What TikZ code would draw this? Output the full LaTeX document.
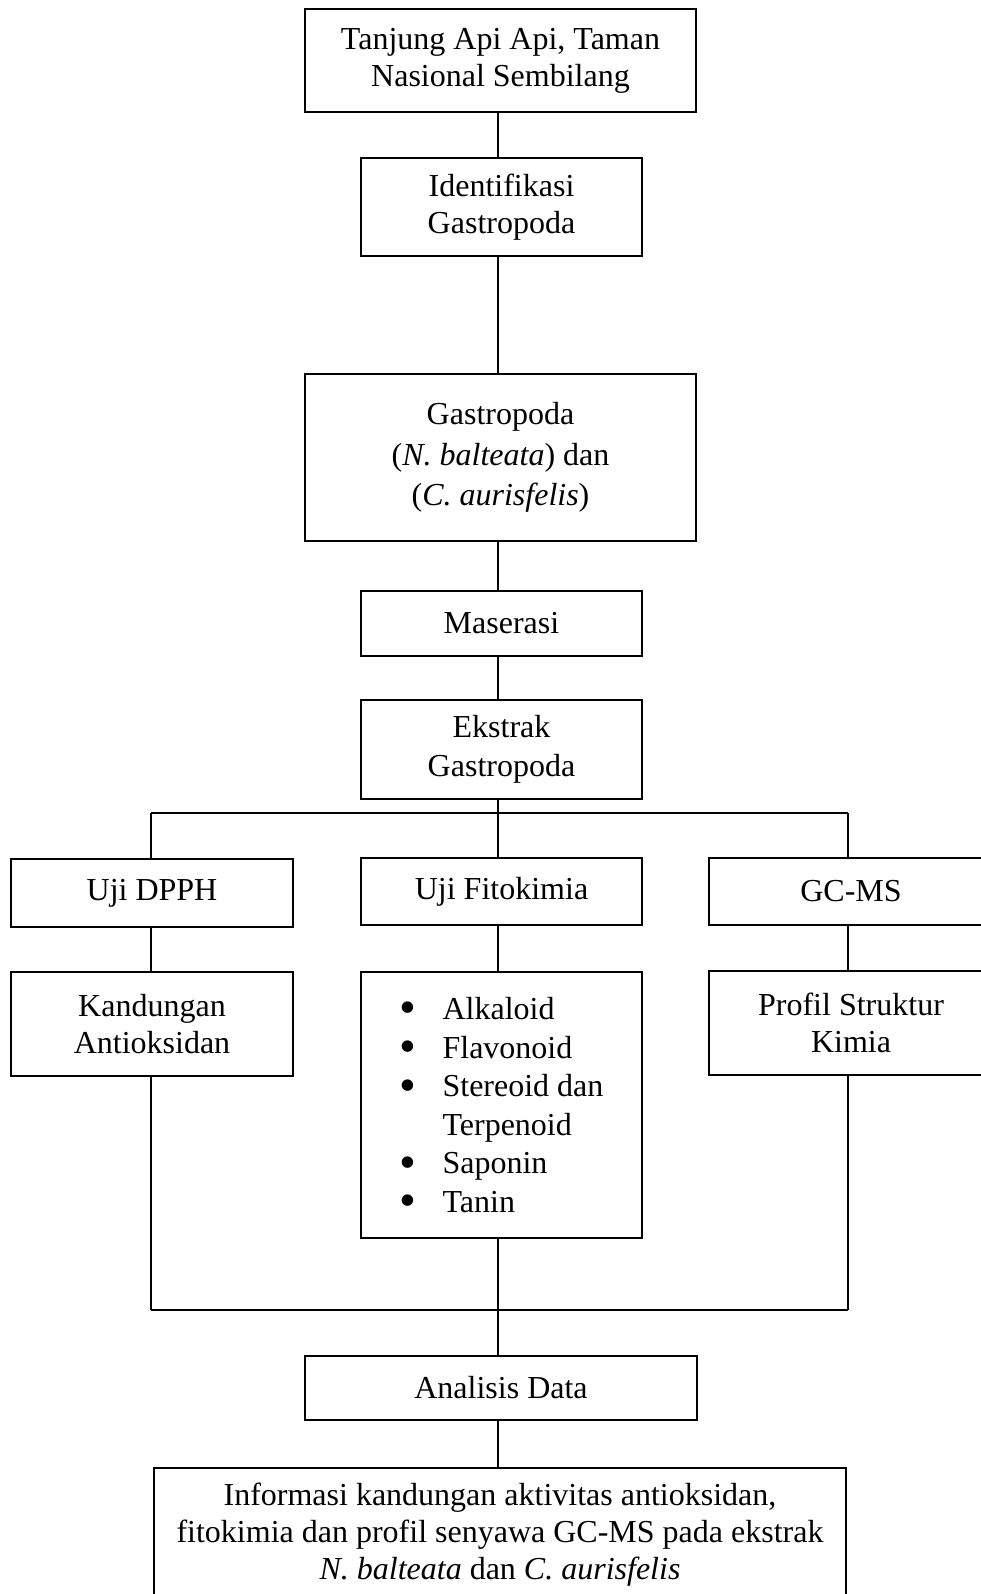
\documentclass[tikz,border=0pt]{standalone}
\usepackage{fontspec}
\setmainfont{Liberation Serif}
\newcommand\bigblt{\smash{\raisebox{-4.5pt}{\fontsize{48}{37}\selectfont\textbullet}}}
\begin{document}
\begin{tikzpicture}[x=1pt,y=-1pt,
  box/.style={draw, line width=1.5pt, inner sep=0pt, outer sep=0pt, align=center, font=\fontsize{32}{37}\selectfont},
  conn/.style={line width=1.2pt}]
\useasboundingbox (0,0) rectangle (981,1594);
% boxes
\node[box, minimum width=391pt, minimum height=103pt] (top) at (500.5,60.5) {Tanjung Api Api, Taman\\Nasional Sembilang};
\node[box, minimum width=281pt, minimum height=98pt] (ident) at (501.5,207) {Identifikasi\\Gastropoda};
\node[box, minimum width=391pt, minimum height=167pt, font=\fontsize{32}{40.7}\selectfont] (gastro) at (500.5,457.5) {Gastropoda\\(\textit{N. balteata}) dan\\(\textit{C. aurisfelis})};
\node[box, minimum width=281pt, minimum height=65pt] (maserasi) at (501.5,623.5) {Maserasi};
\node[box, minimum width=281pt, minimum height=99pt, font=\fontsize{32}{38.6}\selectfont] (ekstrak) at (501.5,749.5) {Ekstrak\\Gastropoda};
\node[box, minimum width=282pt, minimum height=68pt] (dpph) at (152,893) {Uji DPPH};
\node[box, minimum width=281pt, minimum height=67pt] (fito) at (501.5,891.5) {Uji Fitokimia};
\node[box, minimum width=284pt, minimum height=67pt] (gcms) at (851,891.5) {GC-MS};
\node[box, minimum width=282pt, minimum height=104pt] (kand) at (152,1024) {Kandungan\\Antioksidan};
\node[box, minimum width=281pt, minimum height=266pt, align=left, font=\fontsize{32}{38.6}\selectfont] (bul) at (501.5,1105) {%
\makebox[43pt][l]{\bigblt}Alkaloid\\
\makebox[43pt][l]{\bigblt}Flavonoid\\
\makebox[43pt][l]{\bigblt}Stereoid dan\\
\makebox[43pt][l]{}Terpenoid\\
\makebox[43pt][l]{\bigblt}Saponin\\
\makebox[43pt][l]{\bigblt}Tanin};
\node[box, minimum width=284pt, minimum height=104pt] (prof) at (851,1023) {Profil Struktur\\Kimia};
\node[box, minimum width=392pt, minimum height=64pt] (anal) at (501,1388) {Analisis Data};
\node[box, minimum width=692pt, minimum height=134pt] (info) at (500,1535) {Informasi kandungan aktivitas antioksidan,\\fitokimia dan profil senyawa GC-MS pada ekstrak\\\textit{N. balteata} dan \textit{C. aurisfelis}};
% spine coordinates
\coordinate (sp) at (498,0);
\coordinate (lft) at (151,0);
\coordinate (rgt) at (848,0);
\coordinate (br) at (0,813);
\coordinate (mg) at (0,1310);
% connectors
\draw[conn] (sp |- top.south) -- (sp |- ident.north);
\draw[conn] (sp |- ident.south) -- (sp |- gastro.north);
\draw[conn] (sp |- gastro.south) -- (sp |- maserasi.north);
\draw[conn] (sp |- maserasi.south) -- (sp |- ekstrak.north);
\draw[conn] (sp |- ekstrak.south) -- (sp |- br);
\draw[conn, line width=1.5pt] (lft |- br) -- (rgt |- br);
\draw[conn] (lft |- br) -- (lft |- dpph.north);
\draw[conn] (sp |- br) -- (sp |- fito.north);
\draw[conn] (rgt |- br) -- (rgt |- gcms.north);
\draw[conn] (lft |- dpph.south) -- (lft |- kand.north);
\draw[conn] (sp |- fito.south) -- (sp |- bul.north);
\draw[conn] (rgt |- gcms.south) -- (rgt |- prof.north);
\draw[conn] (lft |- kand.south) -- (lft |- mg);
\draw[conn] (rgt |- prof.south) -- (rgt |- mg);
\draw[conn, line width=1.5pt] (lft |- mg) -- (rgt |- mg);
\draw[conn] (sp |- bul.south) -- (sp |- anal.north);
\draw[conn] (sp |- anal.south) -- (sp |- info.north);
\end{tikzpicture}
\end{document}
